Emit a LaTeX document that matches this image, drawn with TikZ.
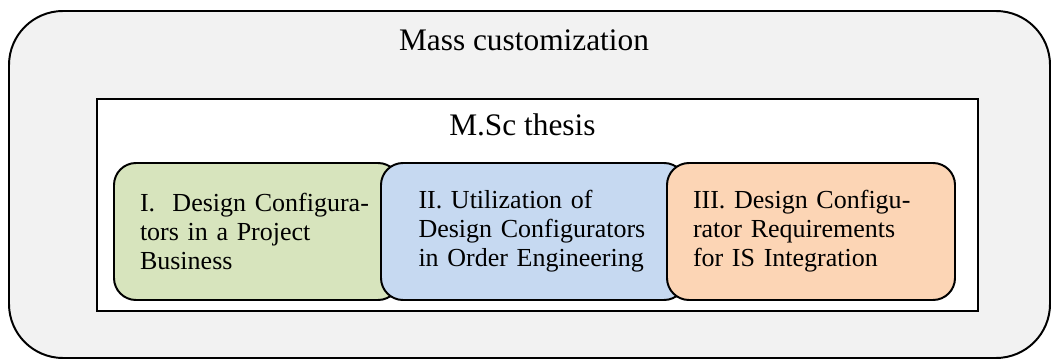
\documentclass[tikz,border=0pt]{standalone}
\usepackage{fontspec}
\setmainfont{Liberation Serif}
\usepackage{tikz}
\usepackage{xcolor}
\usetikzlibrary{positioning}
\definecolor{mc-gray}{RGB}{242,242,242}
\definecolor{mc-green}{RGB}{215,228,189}
\definecolor{mc-blue}{RGB}{198,217,241}
\definecolor{mc-orange}{RGB}{252,213,181}

\begin{document}
\begin{tikzpicture}[
  frame/.style={draw, line width=1.4pt, rounded corners=1.35cm, fill=mc-gray, minimum width=26.025cm, minimum height=8.675cm},
  thesis/.style={draw, line width=1.4pt, fill=white, minimum width=22.025cm, minimum height=5.3cm},
  stage/.style={draw, line width=1.4pt, rounded corners=0.55cm, minimum height=3.425cm, align=left, font=\fontsize{18.5}{20.6}\selectfont},
  title/.style={anchor=base, inner sep=0pt, font=\fontsize{22.3}{24}\selectfont},
]
  \useasboundingbox (0,0) rectangle (26.275,9);

  % Outer frame
  \node[frame] (mass) at (13.2375,4.3875) {};
  \node[title] (masstitle) at (13.1,7.725) {Mass customization};

  % Thesis
  \node[thesis] (msc) at (13.4375,3.875) {};
  \node[title] (msctitle) at (13.06,5.625) {M.Sc thesis};

  % Parts
  \node[stage, fill=mc-green, minimum width=7.15cm, text width=5.85cm] (part1) at (6.425,3.2125)
    {I.~~Design Configura-\\tors in a Project\\Business};
  \node[stage, fill=mc-blue, minimum width=7.625cm, text width=5.75cm] (part2) at (13.3375,3.2125)
    {II. Utilization of\\Design Configurators\\in Order Engineering};
  \node[stage, fill=mc-orange, minimum width=7.2cm, text width=5.9cm] (part3) at (20.275,3.2125)
    {III. Design Configu-\\rator Requirements\\for IS Integration};
\end{tikzpicture}
\end{document}
